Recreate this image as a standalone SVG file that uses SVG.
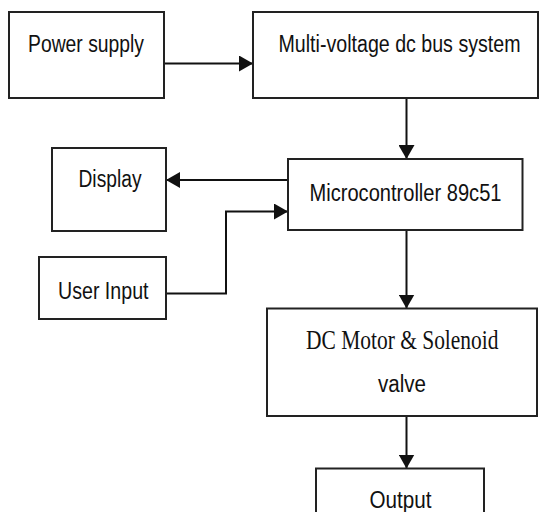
<svg xmlns="http://www.w3.org/2000/svg" width="539" height="512" viewBox="0 0 539 512">
<style>
.box{fill:#fff;stroke:#222;stroke-width:2}
.lbl{font-family:"Liberation Sans",Arial,sans-serif;font-size:19.5px;fill:#111}
.ser{font-family:"Liberation Serif","Times New Roman",serif;font-size:21.5px;fill:#111}
.con{fill:none;stroke:#111;stroke-width:2}
</style>
<defs>
<marker id="ah" viewBox="0 0 14 16" refX="14" refY="8" markerWidth="14" markerHeight="16" markerUnits="userSpaceOnUse" orient="auto">
<path d="M0,0 L14,8 L0,16 Z" fill="#111"/>
</marker>
</defs>
<rect width="539" height="512" fill="#fff"/>
<g id="connectors">
<line class="con" x1="164" y1="63.5" x2="253" y2="63.5" marker-end="url(#ah)"/>
<line class="con" x1="406.5" y1="98" x2="406.5" y2="159" marker-end="url(#ah)"/>
<line class="con" x1="288" y1="180" x2="166" y2="180" marker-end="url(#ah)"/>
<polyline class="con" points="166,293.5 226,293.5 226,211.5 288,211.5" marker-end="url(#ah)"/>
<line class="con" x1="406.5" y1="230" x2="406.5" y2="308.5" marker-end="url(#ah)"/>
<line class="con" x1="406.5" y1="416" x2="406.5" y2="468.5" marker-end="url(#ah)"/>
</g>
<g id="power-supply">
<rect class="box" x="9" y="12" width="155" height="86"/>
<text class="lbl" transform="translate(28,52) scale(1,1.18)" textLength="116" lengthAdjust="spacingAndGlyphs">Power supply</text>
</g>
<g id="dc-bus">
<rect class="box" x="253" y="12" width="285" height="86"/>
<text class="lbl" transform="translate(278.5,52) scale(1,1.18)" textLength="242" lengthAdjust="spacingAndGlyphs">Multi-voltage dc bus system</text>
</g>
<g id="display">
<rect class="box" x="52" y="148" width="114" height="83"/>
<text class="lbl" transform="translate(78.5,187) scale(1,1.18)" textLength="63" lengthAdjust="spacingAndGlyphs">Display</text>
</g>
<g id="microcontroller">
<rect class="box" x="288" y="159" width="234.5" height="71"/>
<text class="lbl" transform="translate(309.5,200.5) scale(1,1.18)" textLength="192" lengthAdjust="spacingAndGlyphs">Microcontroller 89c51</text>
</g>
<g id="user-input">
<rect class="box" x="39" y="257" width="127" height="62"/>
<text class="lbl" transform="translate(58,298.5) scale(1,1.18)" textLength="90.5" lengthAdjust="spacingAndGlyphs">User Input</text>
</g>
<g id="dc-motor">
<rect class="box" x="267" y="308.5" width="270" height="107.5"/>
<text class="ser" transform="translate(306,348.5) scale(1,1.28)" textLength="192.5" lengthAdjust="spacingAndGlyphs">DC Motor &amp; Solenoid</text>
<text class="lbl" transform="translate(378,391.5) scale(1,1.18)" textLength="48" lengthAdjust="spacingAndGlyphs">valve</text>
</g>
<g id="output">
<rect class="box" x="316" y="468.5" width="168" height="60"/>
<text class="lbl" transform="translate(369.5,508) scale(1,1.18)" textLength="62" lengthAdjust="spacingAndGlyphs">Output</text>
</g>
</svg>
